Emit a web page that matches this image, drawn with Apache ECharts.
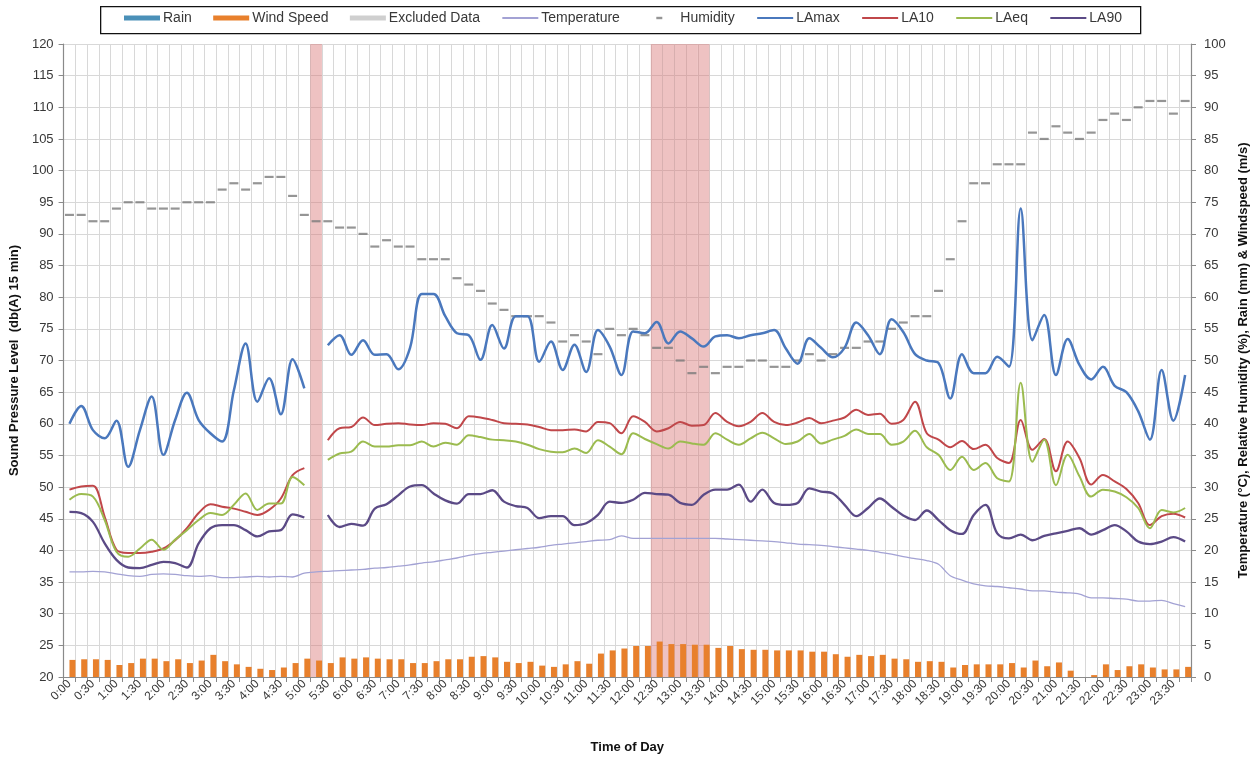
<!DOCTYPE html>
<html>
<head>
<meta charset="utf-8">
<script src="https://cdn.jsdelivr.net/npm/echarts@6/dist/echarts.min.js"></script>
<style>
  html, body { margin: 0; padding: 0; background: #ffffff; }
  #chart { width: 1258px; height: 761px; }
</style>
</head>
<body>
<div id="chart"></div>
<script>
// 15-minute measurement intervals over one day
const times = [
  '0:00','0:15','0:30','0:45','1:00','1:15','1:30','1:45','2:00','2:15','2:30','2:45',
  '3:00','3:15','3:30','3:45','4:00','4:15','4:30','4:45','5:00','5:15','5:30','5:45',
  '6:00','6:15','6:30','6:45','7:00','7:15','7:30','7:45','8:00','8:15','8:30','8:45',
  '9:00','9:15','9:30','9:45','10:00','10:15','10:30','10:45','11:00','11:15','11:30','11:45',
  '12:00','12:15','12:30','12:45','13:00','13:15','13:30','13:45','14:00','14:15','14:30','14:45',
  '15:00','15:15','15:30','15:45','16:00','16:15','16:30','16:45','17:00','17:15','17:30','17:45',
  '18:00','18:15','18:30','18:45','19:00','19:15','19:30','19:45','20:00','20:15','20:30','20:45',
  '21:00','21:15','21:30','21:45','22:00','22:15','22:30','22:45','23:00','23:15','23:30','23:45'
];

// Weather (right axis)
const rain = [
  0,0,0,0,0,0,0,0,0,0,0,0,0,0,0,0,0,0,0,0,0,0,0,0,
  0,0,0,0,0,0,0,0,0,0,0,0,0,0,0,0,0,0,0,0,0,0,0,0,
  0,0,0,0,0,0,0,0,0,0,0,0,0,0,0,0,0,0,0,0,0,0,0,0,
  0,0,0,0,0,0,0,0,0,0,0,0,0,0,0,0,0,0,0,0,0,0,0,0
];
const windSpeed = [
  2.7,2.8,2.8,2.7,1.9,2.2,2.9,2.9,2.5,2.8,2.2,2.6,3.5,2.5,2.0,1.6,1.3,1.1,1.5,2.2,
  2.9,2.6,2.2,3.1,2.9,3.1,2.9,2.8,2.8,2.2,2.2,2.5,2.8,2.8,3.2,3.3,3.1,2.4,2.2,2.4,
  1.8,1.6,2.0,2.5,2.1,3.7,4.2,4.5,4.9,4.9,5.6,5.2,5.2,5.1,5.1,4.6,4.9,4.4,4.3,4.3,
  4.2,4.2,4.2,4.0,4.0,3.6,3.2,3.5,3.3,3.5,2.9,2.8,2.4,2.5,2.4,1.5,1.9,2.0,2.0,2.0,
  2.2,1.5,2.6,1.7,2.3,1.0,0,0.3,2.0,1.1,1.7,2.0,1.5,1.2,1.2,1.6
];
const temperature = [
  16.6,16.6,16.7,16.6,16.3,16.0,15.9,16.2,16.3,16.2,16.0,15.9,16.0,15.7,15.7,15.8,15.9,15.8,15.9,15.8,
  16.4,16.6,16.7,16.8,16.9,17.0,17.2,17.3,17.5,17.7,18.0,18.2,18.5,18.8,19.2,19.5,19.7,19.9,20.1,20.3,
  20.5,20.8,21.0,21.2,21.4,21.6,21.7,22.3,21.9,21.9,21.9,21.9,21.9,21.9,21.9,21.9,21.8,21.7,21.6,21.5,
  21.4,21.2,21.0,20.9,20.8,20.6,20.4,20.2,20.0,19.7,19.4,19.0,18.7,18.4,17.8,16.0,15.3,14.7,14.4,14.3,
  14.1,13.9,13.6,13.6,13.4,13.3,13.1,12.5,12.5,12.4,12.3,12.0,12.0,12.1,11.6,11.1
];
const humidity = [
  73,73,72,72,74,75,75,74,74,74,75,75,75,77,78,77,78,79,79,76,
  73,72,72,71,71,70,68,69,68,68,66,66,66,63,62,61,59,58,57,57,
  57,56,53,54,53,51,55,54,55,54,52,52,50,48,49,48,49,49,50,50,
  49,49,50,51,50,51,52,52,53,53,55,56,57,57,61,66,72,78,78,81,
  81,81,86,85,87,86,85,86,88,89,88,90,91,91,89,91
];

// 1 marks an excluded interval
const excluded = [
  0,0,0,0,0,0,0,0,0,0,0,0,0,0,0,0,0,0,0,0,0,1,0,0,
  0,0,0,0,0,0,0,0,0,0,0,0,0,0,0,0,0,0,0,0,0,0,0,0,
  0,0,1,1,1,1,1,0,0,0,0,0,0,0,0,0,0,0,0,0,0,0,0,0,
  0,0,0,0,0,0,0,0,0,0,0,0,0,0,0,0,0,0,0,0,0,0,0,0
];

// Sound levels, dB(A) (left axis)
const laMax = [
  60,62.8,59,57.7,60.5,53.2,59,64.3,55.1,60.6,64.9,60.6,58.5,57.2,65.3,72.7,63.5,67.2,61.5,70.2,
  65.6,null,72.4,74.0,70.9,73.2,70.9,71.0,68.6,72,80.5,80.5,77,74.3,74,70.1,75.6,71.9,77,77,
  69.8,73,68.5,72.5,68.2,74.8,72.2,67.7,74.6,74.3,76.1,72.7,74.6,73.5,72.2,73.8,74,73.5,74,74.3,
  74.8,71.9,69.5,73.5,72,70.5,72,76,74,71,76.5,74.5,71,70,69.6,64,71,68,68,70.6,
  69,94,73.2,77.2,67.7,73.4,69.3,67,69,66,65,62,57.5,68.5,60.5,67.7
];
const la10 = [
  49.6,50.1,50.2,45.3,40.1,39.6,39.6,39.8,40.3,41.6,43.5,45.9,47.3,46.9,46.6,46.1,45.6,46.4,48.2,51.9,
  53.0,null,57.4,59.3,59.5,61.0,59.8,60.0,60.1,59.9,59.8,60.1,60.0,59.3,61.2,61.0,60.6,60.1,60.0,59.9,
  59.5,59.0,59.0,59.1,58.8,60.3,60.1,58.5,61.2,60.3,58.8,59.3,60.3,59.7,59.8,61.7,60.3,59.6,60.3,61.7,
  60.3,59.8,60.2,60.9,60.1,60.5,61.0,62.2,61.4,61.6,60.0,60.6,63.5,58.5,57.5,56.3,57.3,56.0,56.7,54.6,
  53.8,60.6,55.9,57.6,52.5,57.2,54.6,50.4,51.9,50.9,49.7,47.5,44.0,45.4,45.8,45.2
];
const laEq = [
  48.0,48.9,48.5,44.8,39.8,39.0,40.3,41.7,40.1,41.7,43.2,44.8,45.9,45.6,47.2,49.0,46.4,47.4,47.4,51.6,
  50.3,null,54.3,55.3,55.6,57.2,56.4,56.4,56.6,56.6,57.2,56.4,57.0,56.7,58.2,57.9,57.5,57.4,57.2,56.7,
  56.0,55.6,55.5,56.1,55.4,57.4,56.4,55.2,58.5,57.6,56.8,56.1,57.2,56.9,56.7,58.5,57.5,56.7,57.7,58.6,
  57.7,56.8,57.2,58.4,56.9,57.5,58.1,59.1,58.4,58.4,56.7,57.2,58.9,56.3,55.1,52.7,54.8,52.7,53.8,51.4,
  50.9,66.5,54.0,57.5,50.3,55.1,51.7,48.5,49.6,49.3,48.4,46.7,43.5,46.4,46.0,46.7
];
const la90 = [
  46.1,45.9,44.5,41.1,38.5,37.3,37.2,37.7,38.2,38.0,37.3,41.1,43.5,44.0,44.0,43.2,42.2,43.0,43.2,45.7,
  45.2,null,45.6,43.7,44.2,43.9,46.6,47.3,48.7,50.1,50.3,49.0,47.9,47.4,48.9,48.9,49.5,47.7,47.0,46.7,
  45.1,45.4,45.4,44.0,44.3,45.6,47.7,47.5,48.0,49.1,48.9,48.8,47.5,47.2,48.8,49.6,49.6,50.4,47.7,49.6,
  47.5,47.2,47.5,49.8,49.3,49.0,47.2,45.4,46.7,48.2,46.9,45.5,44.8,46.3,44.8,43.2,42.6,45.6,47.2,42.7,
  41.9,42.5,41.6,42.3,42.7,43.1,43.5,42.5,43.2,44.0,43.0,41.4,41.0,41.4,42.1,41.4
];

const FONT = "'Liberation Sans', Arial, sans-serif";
const AXIS_GREY = '#8a8a8a';
const GRID_GREY = '#d8d8d8';
const TEXT = '#383838';

const chart = echarts.init(document.getElementById('chart'), null, { renderer: 'canvas' });

const lineSeries = (name, data, color, width) => ({
  name, type: 'line', data, xAxisIndex: 0, yAxisIndex: 0,
  smooth: 0.35, symbol: 'none', showSymbol: false, connectNulls: false,
  lineStyle: { color, width }, itemStyle: { color }, z: 4
});

// legend entries for lines: plain line, no marker
const lineKey = name => ({ name, itemStyle: { opacity: 0 } });

chart.setOption({
  animation: false,
  backgroundColor: '#ffffff',
  textStyle: { fontFamily: FONT },
  graphic: [{
    type: 'rect', left: 100, top: 6, z: 0,
    shape: { width: 1040, height: 27 },
    style: { fill: '#ffffff', stroke: '#111111', lineWidth: 1.3 }
  }],
  legend: {
    left: 124, top: 11, padding: 0,
    itemWidth: 36, itemHeight: 5, itemGap: 21.4,
    textStyle: { fontFamily: FONT, fontSize: 14, color: TEXT, padding: [0, 0, 0, -2] },
    data: [
      { name: 'Rain', icon: 'rect' },
      { name: 'Wind Speed', icon: 'rect' },
      { name: 'Excluded Data', icon: 'rect', itemStyle: { color: '#cfcfcf' } },
      lineKey('Temperature'),
      { name: 'Humidity', icon: 'path://M0,0M36,5M15,1.3L21,1.3L21,3.7L15,3.7Z' },
      lineKey('LAmax'),
      lineKey('LA10'),
      lineKey('LAeq'),
      lineKey('LA90')
    ]
  },
  grid: { left: 63, right: 67, top: 44, bottom: 84, containLabel: false },
  xAxis: [{
    type: 'category', data: times, boundaryGap: true,
    axisLine: { lineStyle: { color: AXIS_GREY, width: 1.2 } },
    axisTick: { show: true, interval: 0, length: 5, lineStyle: { color: AXIS_GREY } },
    axisLabel: { interval: 1, rotate: 45, fontSize: 12, color: TEXT, margin: 5, fontFamily: FONT },
    splitLine: { show: true, interval: 0, lineStyle: { color: GRID_GREY, width: 1 } },
    name: 'Time of Day', nameLocation: 'middle', nameGap: 64,
    nameTextStyle: { fontSize: 13, fontWeight: 'bold', color: '#111', fontFamily: FONT }
  }, {
    type: 'category', data: times, show: false, boundaryGap: true
  }],
  yAxis: [{
    type: 'value', min: 20, max: 120, interval: 5, position: 'left',
    axisLine: { show: true, lineStyle: { color: AXIS_GREY, width: 1.2 } },
    axisTick: { show: true, length: 5, lineStyle: { color: AXIS_GREY } },
    axisLabel: { fontSize: 13, color: TEXT, margin: 10, fontFamily: FONT },
    splitLine: { show: true, lineStyle: { color: GRID_GREY, width: 1 } },
    name: 'Sound Pressure Level  (db(A) 15 min)', nameLocation: 'middle', nameRotate: 90, nameGap: 39,
    nameTextStyle: { fontSize: 13, fontWeight: 'bold', color: '#111', fontFamily: FONT }
  }, {
    type: 'value', min: 0, max: 100, interval: 5, position: 'right',
    axisLine: { show: true, lineStyle: { color: AXIS_GREY, width: 1.2 } },
    axisTick: { show: true, length: 5, lineStyle: { color: AXIS_GREY } },
    axisLabel: { fontSize: 13, color: TEXT, margin: 13, fontFamily: FONT },
    splitLine: { show: false },
    name: 'Temperature (°C), Relative Humidity (%), Rain (mm) & Windspeed (m/s)',
    nameLocation: 'middle', nameRotate: 90, nameGap: 42,
    nameTextStyle: { fontSize: 13, fontWeight: 'bold', color: '#111', fontFamily: FONT }
  }],
  series: [
    {
      name: 'Rain', type: 'bar', data: rain, xAxisIndex: 0, yAxisIndex: 1,
      barWidth: 6, barGap: '0%', itemStyle: { color: '#4a90b8' }, z: 3
    },
    {
      name: 'Wind Speed', type: 'bar', data: windSpeed, xAxisIndex: 0, yAxisIndex: 1,
      barWidth: 6, barGap: '0%', itemStyle: { color: '#e8802c' }, z: 3
    },
    {
      name: 'Excluded Data', type: 'bar', xAxisIndex: 1, yAxisIndex: 1,
      data: excluded.map(f => (f ? 100 : null)),
      barWidth: '100%', silent: true,
      itemStyle: { color: 'rgba(218,120,120,0.45)' }, z: 1
    },
    {
      name: 'Temperature', type: 'line', data: temperature, xAxisIndex: 0, yAxisIndex: 1,
      smooth: 0.3, symbol: 'none', showSymbol: false,
      lineStyle: { color: '#a3a2d4', width: 1.3 }, itemStyle: { color: '#a3a2d4' }, z: 3
    },
    {
      name: 'Humidity', type: 'scatter', data: humidity, xAxisIndex: 0, yAxisIndex: 1,
      symbol: 'rect', symbolSize: [9, 2.2],
      itemStyle: { color: '#7a7a7a' }, z: 3
    },
    lineSeries('LAmax', laMax, '#4a78bd', 2.5),
    lineSeries('LA10', la10, '#c0474a', 2),
    lineSeries('LAeq', laEq, '#9bbb4f', 2),
    lineSeries('LA90', la90, '#5b4a86', 2.3)
  ]
});
</script>
</body>
</html>
